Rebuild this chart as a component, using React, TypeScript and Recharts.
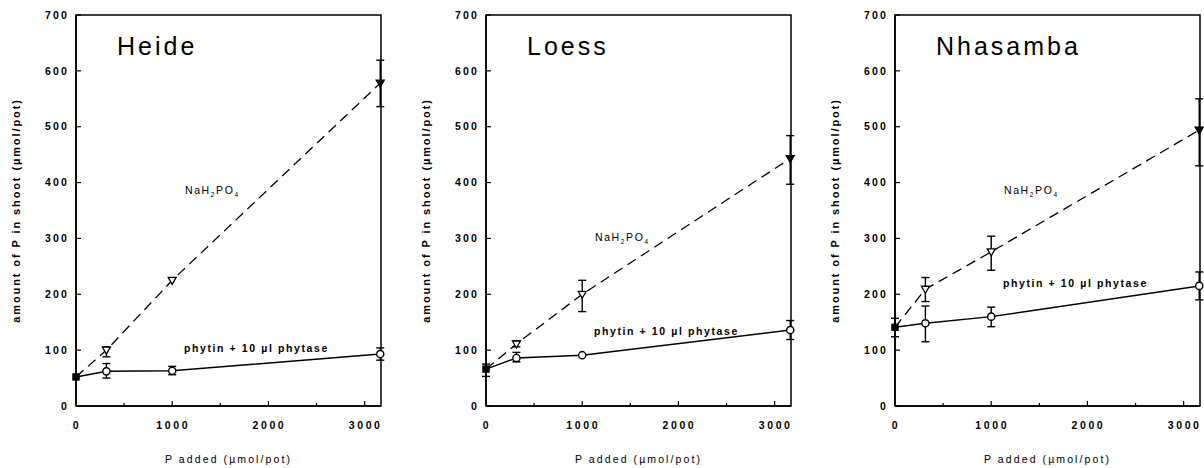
import { LineChart, Line, XAxis, YAxis, ErrorBar, ReferenceArea } from 'recharts'

// P added (µmol/pot)
const xs = [0, 316, 1000, 3162]
const xTicks = [0, 500, 1000, 1500, 2000, 2500, 3000]
const yTicks = [0, 100, 200, 300, 400, 500, 600, 700]

const soils = ['Heide', 'Loess', 'Nhasamba']

// NaH2PO4 (mean, lower, upper)
const naHeide = [52, 100, 225, 578]
const naHeideLo = [null, 88, null, 536]
const naHeideHi = [null, 106, null, 619]
const naLoess = [66, 111, 200, 443]
const naLoessLo = [null, 106, 169, 397]
const naLoessHi = [null, 117, 225, 484]
const naNhasamba = [141, 209, 276, 494]
const naNhasambaLo = [null, 187, 243, 430]
const naNhasambaHi = [null, 230, 304, 550]

// phytin + 10 µl phytase
const phHeide = [52, 62, 63, 93]
const phHeideLo = [null, 50, 56, 82]
const phHeideHi = [null, 76, 71, 104]
const phLoess = [66, 86, 91, 136]
const phLoessLo = [53, 79, null, 119]
const phLoessHi = [75, 96, null, 153]
const phNhasamba = [141, 148, 160, 215]
const phNhasambaLo = [124, 115, 142, 190]
const phNhasambaHi = [157, 179, 177, 240]

type N = number | null

function err(v: number[], lo: N[], hi: N[], i: number) {
  const l = lo[i]
  const h = hi[i]
  if (l == null || h == null) return null
  return [v[i] - l, h - v[i]]
}

function rows(na: number[], naLo: N[], naHi: N[], ph: number[], phLo: N[], phHi: N[]) {
  return xs.map((x, i) => ({
    x,
    na: na[i],
    naErr: err(na, naLo, naHi, i),
    ph: ph[i],
    phErr: err(ph, phLo, phHi, i),
  }))
}

const datasets = [
  rows(naHeide, naHeideLo, naHeideHi, phHeide, phHeideLo, phHeideHi),
  rows(naLoess, naLoessLo, naLoessHi, phLoess, phLoessLo, phLoessHi),
  rows(naNhasamba, naNhasambaLo, naNhasambaHi, phNhasamba, phNhasambaLo, phNhasambaHi),
]

const X_MAX = 3170

// annotation placement (panel px)
const naLabelY = [190, 237, 190]
const phLabelY = [348, 331, 283]
const panelLeft = [0, 410, 819]

const FONT = '"Liberation Sans", Arial, sans-serif'

function XTick(props: any) {
  const { x, y, payload } = props
  const major = payload.value % 1000 === 0
  return (
    <g>
      <line x1={x} x2={x} y1={y} y2={y - (major ? 5 : 3)} stroke="#000" strokeWidth={1.2} />
      {major && (
        <text x={x + 1} y={y + 23} textAnchor="middle" fontFamily={FONT} fontSize={10.5} fontWeight="bold" letterSpacing={2.6} fill="#000">
          {payload.value}
        </text>
      )}
    </g>
  )
}

function YTick(props: any) {
  const { x, y, payload } = props
  return (
    <g>
      <line x1={x} x2={x + 5} y1={y} y2={y} stroke="#000" strokeWidth={1.2} />
      <text x={x - 7} y={y} dy="0.35em" textAnchor="end" fontFamily={FONT} fontSize={10.5} fontWeight="bold" letterSpacing={2.2} fill="#000">
        {payload.value}
      </text>
    </g>
  )
}

function YTitle(props: any) {
  const vb = props.viewBox
  const cx = vb.x + 16
  const cy = vb.y + vb.height / 2
  return (
    <text x={cx} y={cy} transform={`rotate(-90 ${cx} ${cy})`} textAnchor="middle" dy="0.35em" fontFamily={FONT} fontSize={11} fontWeight="bold" letterSpacing={1.9} fill="#000">
      amount of P in shoot (µmol/pot)
    </text>
  )
}

function XTitle(props: any) {
  const vb = props.viewBox
  return (
    <text x={vb.x + vb.width / 2} y={vb.y + 57} textAnchor="middle" fontFamily={FONT} fontSize={10.5} letterSpacing={2.1} fill="#000">
      P added (µmol/pot)
    </text>
  )
}

function NaDot(props: any) {
  const { cx, cy, index } = props
  if (cx == null || cy == null) return <g key={index} />
  if (index === 0) return <rect key={index} x={cx - 3.5} y={cy - 3.5} width={7} height={7} fill="#000" />
  const filled = index === xs.length - 1
  return (
    <path
      key={index}
      d={`M${cx - 4},${cy - 3} L${cx + 4},${cy - 3} L${cx},${cy + 4} Z`}
      fill={filled ? '#000' : '#fff'}
      stroke="#000"
      strokeWidth={1.3}
    />
  )
}

function PhDot(props: any) {
  const { cx, cy, index } = props
  if (cx == null || cy == null) return <g key={index} />
  if (index === 0) return <rect key={index} x={cx - 3.5} y={cy - 3.5} width={7} height={7} fill="#000" />
  return <circle key={index} cx={cx} cy={cy} r={3.6} fill="#fff" stroke="#000" strokeWidth={1.4} />
}

function Panel({ idx }: { idx: number }) {
  const data = datasets[idx]
  return (
    <div style={{ position: 'absolute', left: panelLeft[idx], top: 0, width: 400, height: 468 }}>
      <LineChart width={400} height={468} data={data} margin={{ top: 15, right: 19, bottom: 12, left: 0 }}>
        <XAxis
          dataKey="x"
          type="number"
          domain={[0, X_MAX]}
          ticks={xTicks}
          interval={0}
          height={50}
          tickSize={0}
          tickMargin={0}
          tickLine={false}
          tick={<XTick />}
          axisLine={{ stroke: '#000', strokeWidth: 1.5 }}
          label={<XTitle />}
        />
        <YAxis
          type="number"
          domain={[0, 700]}
          ticks={yTicks}
          interval={0}
          width={76}
          tickSize={0}
          tickMargin={0}
          tickLine={false}
          tick={<YTick />}
          axisLine={{ stroke: '#000', strokeWidth: 1.5 }}
          label={<YTitle />}
        />
        <ReferenceArea x1={0} x2={X_MAX} y1={0} y2={700} fill="none" stroke="#000" strokeWidth={1.5} ifOverflow="visible" />
        <Line
          dataKey="na"
          type="linear"
          stroke="#000"
          strokeWidth={1.3}
          strokeDasharray="10 6"
          dot={NaDot}
          isAnimationActive={false}
        >
          <ErrorBar dataKey="naErr" direction="y" width={4} stroke="#000" strokeWidth={1.4} />
        </Line>
        <Line
          dataKey="ph"
          type="linear"
          stroke="#000"
          strokeWidth={1.5}
          dot={PhDot}
          isAnimationActive={false}
        >
          <ErrorBar dataKey="phErr" direction="y" width={4} stroke="#000" strokeWidth={1.4} />
        </Line>
      </LineChart>
      <svg width={400} height={468} style={{ position: 'absolute', left: 0, top: 0, pointerEvents: 'none' }}>
        <text x={117} y={55} fontFamily={FONT} fontSize={25} letterSpacing={3} fill="#000">
          {soils[idx]}
        </text>
        <text x={185} y={naLabelY[idx]} dy="0.35em" fontFamily={FONT} fontSize={10.5} letterSpacing={1.6} fill="#000">
          NaH<tspan fontSize={6.5} dy={3}>2</tspan>
          <tspan dy={-3}>PO</tspan>
          <tspan fontSize={6.5} dy={3}>4</tspan>
        </text>
        <text x={184} y={phLabelY[idx]} dy="0.35em" fontFamily={FONT} fontSize={10.5} fontWeight="bold" letterSpacing={1.6} fill="#000">
          phytin + 10 µl phytase
        </text>
      </svg>
    </div>
  )
}

export default function App() {
  return (
    <div style={{ position: 'absolute', left: 0, top: 0, width: 1204, height: 468, overflow: 'hidden', background: '#fff' }}>
      {soils.map((s, i) => (
        <Panel key={s} idx={i} />
      ))}
    </div>
  )
}
